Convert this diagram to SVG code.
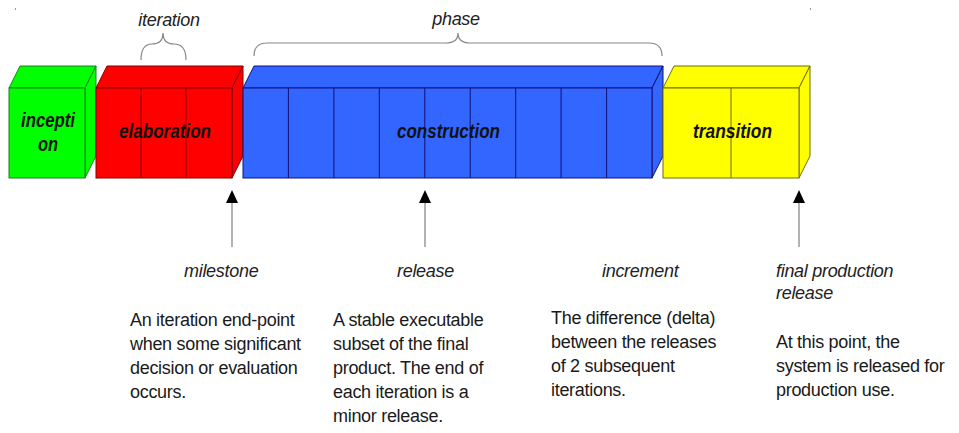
<svg xmlns="http://www.w3.org/2000/svg" width="959" height="433" viewBox="0 0 959 433">
<style>
.g{fill:#00ff00;stroke:#1f7f1f;stroke-width:1}
.r{fill:#ff0000;stroke:#7f0000;stroke-width:1}
.b{fill:#3366ff;stroke:#10107a;stroke-width:1}
.y{fill:#ffff00;stroke:#6f6f00;stroke-width:1}
.lbl{font-family:"Liberation Sans",Arial,sans-serif;font-size:21px;font-weight:bold;font-style:italic;fill:#111}
.it{font-family:"Liberation Sans",Arial,sans-serif;font-size:18px;font-style:italic;fill:#222;letter-spacing:-0.3px}
.tx{font-family:"Liberation Sans",Arial,sans-serif;font-size:18px;fill:#1a1a1a;letter-spacing:-0.3px}
.brace{fill:none;stroke:#888;stroke-width:1.2}
.shaft{stroke:#999;stroke-width:1.5}
.head{fill:#000}
</style>
<rect x="15" y="8" width="1" height="2" fill="#999"/>
<rect x="810" y="8" width="1" height="2" fill="#999"/>

<g id="braces">
<path class="brace" d="M141,60 Q141,44 152,44 Q163,44 163,33 Q163,44 174,44 Q186,44 186,60"/>
<path class="brace" d="M254,56 Q254,43 267,43 L446,43 Q458,43 458,33 Q458,43 470,43 L649,43 Q662,43 662,56"/>
<text class="it" x="169" y="26" text-anchor="middle">iteration</text>
<text class="it" x="456" y="25" text-anchor="middle">phase</text>
</g>

<g id="inception">
<polygon class="g" points="9,88 20,66 96,66 85,88"/>
<polygon class="g" points="85,88 96,66 96,156 85,178"/>
<rect class="g" x="9" y="88" width="76" height="90"/>
<text class="lbl" x="21" y="127" textLength="54" lengthAdjust="spacingAndGlyphs">incepti</text>
<text class="lbl" x="38" y="151" textLength="20" lengthAdjust="spacingAndGlyphs">on</text>
</g>

<g id="elaboration">
<polygon class="r" points="96,88 107,66 243,66 232,88"/>
<polygon class="r" points="232,88 243,66 243,156 232,178"/>
<rect class="r" x="96" y="88" width="136" height="90"/>
<line class="r" x1="141" y1="88" x2="141" y2="178"/>
<line class="r" x1="186" y1="88" x2="186" y2="178"/>
<text class="lbl" x="119" y="138" textLength="92" lengthAdjust="spacingAndGlyphs">elaboration</text>
</g>

<g id="construction">
<polygon class="b" points="243,88 254,66 663,66 652,88"/>
<polygon class="b" points="652,88 663,66 663,156 652,178"/>
<rect class="b" x="243" y="88" width="409" height="90"/>
<line class="b" x1="288.4" y1="88" x2="288.4" y2="178"/>
<line class="b" x1="333.9" y1="88" x2="333.9" y2="178"/>
<line class="b" x1="379.3" y1="88" x2="379.3" y2="178"/>
<line class="b" x1="424.8" y1="88" x2="424.8" y2="178"/>
<line class="b" x1="470.2" y1="88" x2="470.2" y2="178"/>
<line class="b" x1="515.7" y1="88" x2="515.7" y2="178"/>
<line class="b" x1="561.1" y1="88" x2="561.1" y2="178"/>
<line class="b" x1="606.6" y1="88" x2="606.6" y2="178"/>
<text class="lbl" x="397" y="138" textLength="103" lengthAdjust="spacingAndGlyphs">construction</text>
</g>

<g id="transition">
<polygon class="y" points="663,88 674,66 810,66 799,88"/>
<polygon class="y" points="799,88 810,66 810,156 799,178"/>
<rect class="y" x="663" y="88" width="136" height="90"/>
<line class="y" x1="731" y1="88" x2="731" y2="178"/>
<text class="lbl" x="693" y="138" textLength="79" lengthAdjust="spacingAndGlyphs">transition</text>
</g>

<g id="connectors">
<line class="shaft" x1="232" y1="202" x2="232" y2="247"/>
<polygon class="head" points="232,190 226,203 238,203"/>
<line class="shaft" x1="425" y1="202" x2="425" y2="247"/>
<polygon class="head" points="425,190 419,203 431,203"/>
<line class="shaft" x1="799" y1="202" x2="799" y2="247"/>
<polygon class="head" points="799,190 793,203 805,203"/>
</g>

<g id="milestone">
<text class="it" x="184" y="277">milestone</text>
<text class="tx" x="130" y="326">An iteration end-point</text>
<text class="tx" x="130" y="350">when some significant</text>
<text class="tx" x="130" y="374">decision or evaluation</text>
<text class="tx" x="130" y="398">occurs.</text>
</g>

<g id="release">
<text class="it" x="397" y="277">release</text>
<text class="tx" x="333" y="326">A stable executable</text>
<text class="tx" x="333" y="350">subset of the final</text>
<text class="tx" x="333" y="374">product. The end of</text>
<text class="tx" x="333" y="398">each iteration is a</text>
<text class="tx" x="333" y="422">minor release.</text>
</g>

<g id="increment">
<text class="it" x="602" y="277">increment</text>
<text class="tx" x="551" y="324">The difference (delta)</text>
<text class="tx" x="551" y="348">between the releases</text>
<text class="tx" x="551" y="372">of 2 subsequent</text>
<text class="tx" x="551" y="396">iterations.</text>
</g>

<g id="final">
<text class="it" x="776" y="277">final production</text>
<text class="it" x="776" y="299">release</text>
<text class="tx" x="776" y="348">At this point, the</text>
<text class="tx" x="776" y="372">system is released for</text>
<text class="tx" x="776" y="396">production use.</text>
</g>
</svg>
